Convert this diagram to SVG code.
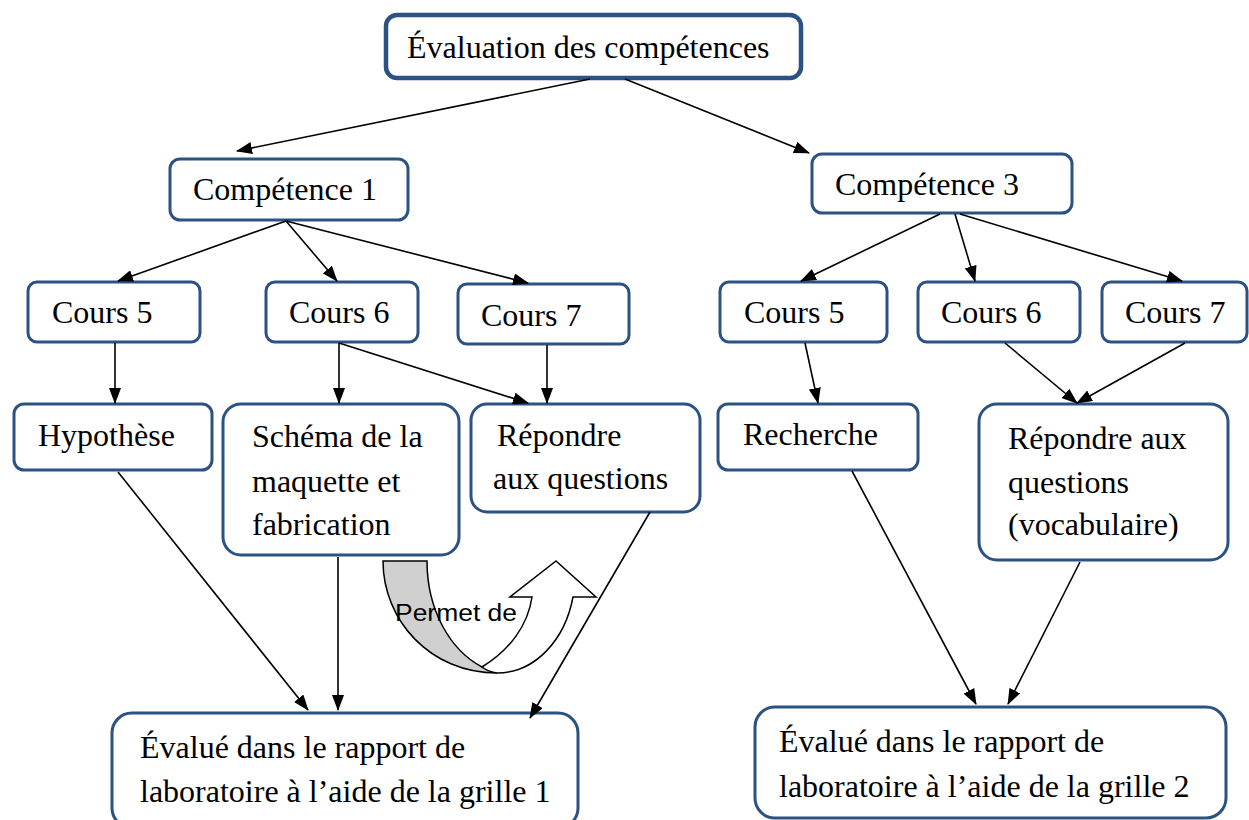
<svg xmlns="http://www.w3.org/2000/svg" width="1249" height="820" viewBox="0 0 1249 820">
<defs>
<marker id="ah" markerUnits="userSpaceOnUse" markerWidth="16" markerHeight="12" refX="15" refY="6" orient="auto"><path d="M0,0 L16,6 L0,12 Z" fill="#000"/></marker>
<style>
.box{fill:#fff;stroke:#2b5283;stroke-width:3}
.t{font-family:"Liberation Serif","Times New Roman",serif;font-size:32px;fill:#000}
.c{stroke:#000;stroke-width:1.6;fill:none;marker-end:url(#ah)}
</style>
</defs>
<rect width="1249" height="820" fill="#fff"/>
<g id="n-top"><rect class="box" x="386" y="15" width="415" height="63" rx="11" style="stroke-width:4.5"/><text class="t" x="407" y="58">Évaluation des compétences</text></g>
<g id="n-c1"><rect class="box" x="170" y="159" width="238" height="61" rx="10"/><text class="t" x="193" y="200">Compétence 1</text></g>
<g id="n-c3"><rect class="box" x="812" y="154" width="260" height="59" rx="10"/><text class="t" x="835" y="195">Compétence 3</text></g>
<g id="n-l5"><rect class="box" x="28" y="282" width="172" height="60" rx="9"/><text class="t" x="52" y="323">Cours 5</text></g>
<g id="n-l6"><rect class="box" x="266" y="282" width="152" height="60" rx="9"/><text class="t" x="289" y="323">Cours 6</text></g>
<g id="n-l7"><rect class="box" x="458" y="284" width="171" height="60" rx="9"/><text class="t" x="481" y="326">Cours 7</text></g>
<g id="n-r5"><rect class="box" x="720" y="282" width="167" height="60" rx="9"/><text class="t" x="744" y="323">Cours 5</text></g>
<g id="n-r6"><rect class="box" x="918" y="282" width="162" height="60" rx="9"/><text class="t" x="941" y="323">Cours 6</text></g>
<g id="n-r7"><rect class="box" x="1102" y="282" width="145" height="60" rx="9"/><text class="t" x="1125" y="323">Cours 7</text></g>
<g id="n-hyp"><rect class="box" x="14" y="404" width="198" height="66" rx="10"/><text class="t" x="38" y="446">Hypothèse</text></g>
<g id="n-sch"><rect class="box" x="223" y="404" width="236" height="151" rx="18"/><text class="t" x="252" y="447">Schéma de la</text><text class="t" x="252" y="492">maquette et</text><text class="t" x="252" y="535">fabrication</text></g>
<g id="n-repl"><rect class="box" x="471" y="404" width="229" height="108" rx="16"/><text class="t" x="497" y="446">Répondre</text><text class="t" x="493" y="489">aux questions</text></g>
<g id="n-rech"><rect class="box" x="718" y="404" width="200" height="66" rx="10"/><text class="t" x="743" y="445">Recherche</text></g>
<g id="n-repr"><rect class="box" x="979" y="404" width="249" height="156" rx="18"/><text class="t" x="1008" y="449">Répondre aux</text><text class="t" x="1008" y="493">questions</text><text class="t" x="1008" y="535">(vocabulaire)</text></g>
<g id="n-ev1"><rect class="box" x="112" y="713" width="466" height="115" rx="20"/><text class="t" x="140" y="758">Évalué dans le rapport de</text><text class="t" x="140" y="802">laboratoire à l’aide de la grille 1</text></g>
<g id="n-ev2"><rect class="box" x="755" y="707" width="471" height="111" rx="20"/><text class="t" x="779" y="752">Évalué dans le rapport de</text><text class="t" x="779" y="797">laboratoire à l’aide de la grille 2</text></g>
<g id="permet">
<path d="M383,561 L427,561 C427,610 450,650 482,667 L497,673 C430,673 383,620 383,561 Z" fill="#d0d0d0" stroke="#000" stroke-width="1.5"/>
<path d="M482,667 C510,650 528,625 532,597 L510,597 L556,561 L596,597 L573,597 C565,640 535,673 497,673 C490,672 486,670 482,667 Z" fill="#fff" stroke="#000" stroke-width="1.5"/>
<text x="395" y="621" font-family="'Liberation Sans','Open Sans',sans-serif" font-size="23" textLength="122" lengthAdjust="spacingAndGlyphs" fill="#000">Permet de</text>
</g>
<g id="connectors">
<line class="c" x1="590" y1="79" x2="237" y2="151"/>
<line class="c" x1="625" y1="79" x2="809" y2="153"/>
<line class="c" x1="286" y1="221" x2="118" y2="281"/>
<line class="c" x1="286" y1="221" x2="337" y2="281"/>
<line class="c" x1="286" y1="221" x2="528" y2="283"/>
<line class="c" x1="940" y1="214" x2="801" y2="281"/>
<line class="c" x1="955" y1="214" x2="975" y2="281"/>
<line class="c" x1="960" y1="214" x2="1182" y2="281"/>
<line class="c" x1="115" y1="343" x2="115" y2="403"/>
<line class="c" x1="339" y1="343" x2="339" y2="403"/>
<line class="c" x1="339" y1="343" x2="528" y2="403"/>
<line class="c" x1="547" y1="345" x2="547" y2="403"/>
<line class="c" x1="805" y1="343" x2="818" y2="403"/>
<line class="c" x1="1005" y1="343" x2="1077" y2="403"/>
<line class="c" x1="1185" y1="343" x2="1077" y2="403"/>
<line class="c" x1="118" y1="472" x2="308" y2="710"/>
<line class="c" x1="338" y1="557" x2="338" y2="710"/>
<line class="c" x1="650" y1="512" x2="530" y2="718"/>
<line class="c" x1="852" y1="471" x2="976" y2="704"/>
<line class="c" x1="1080" y1="562" x2="1008" y2="704"/>
</g>
</svg>
